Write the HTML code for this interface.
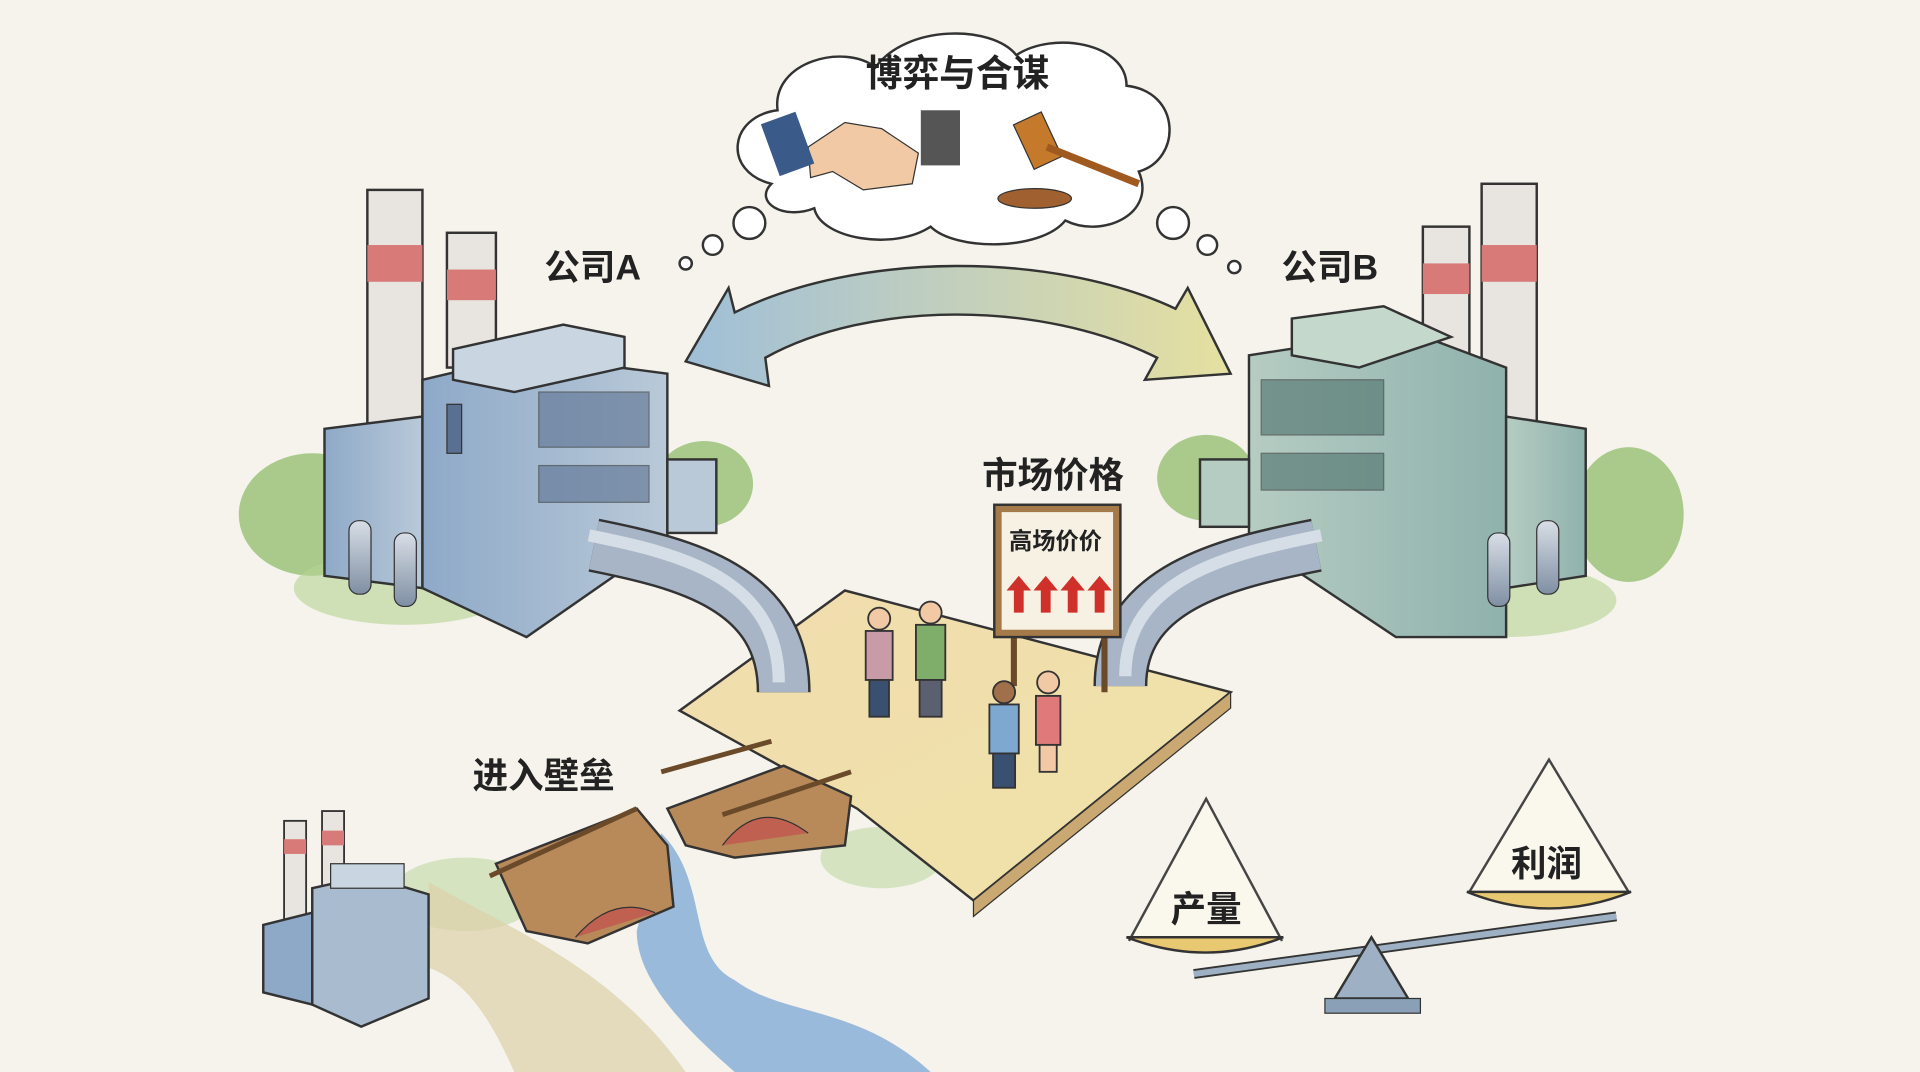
<!DOCTYPE html>
<html><head><meta charset="utf-8"><style>
html,body{margin:0;padding:0;background:#f5f3ec;}
svg{display:block;}
text{font-family:"Liberation Sans","Noto Sans CJK SC",sans-serif;font-weight:bold;fill:#222;}
</style></head><body>
<svg width="1920" height="1072" viewBox="0 0 1568 875" preserveAspectRatio="none" xmlns="http://www.w3.org/2000/svg">
<defs>
<linearGradient id="arr" x1="0" x2="1"><stop offset="0" stop-color="#9fbfd8"/><stop offset="1" stop-color="#e6e0a0"/></linearGradient>
<linearGradient id="plat" x1="0" x2="1" y1="0" y2="1"><stop offset="0" stop-color="#f1dcae"/><stop offset="1" stop-color="#efe3a8"/></linearGradient>
<linearGradient id="facA" x1="0" x2="1"><stop offset="0" stop-color="#8ea9c8"/><stop offset="1" stop-color="#b9c9d8"/></linearGradient>
<linearGradient id="facB" x1="0" x2="1"><stop offset="0" stop-color="#b5ccc2"/><stop offset="1" stop-color="#8fb2ad"/></linearGradient>
<linearGradient id="pipe" x1="0" x2="0" y1="0" y2="1"><stop offset="0" stop-color="#d8dee6"/><stop offset="1" stop-color="#7f8fa3"/></linearGradient>
</defs>
<rect width="1568" height="875" fill="#f5f3ec"/>
<!-- ground greens -->
<ellipse cx="255" cy="420" rx="60" ry="50" fill="#8fbc6a" opacity=".75"/>
<ellipse cx="330" cy="480" rx="90" ry="30" fill="#b5d495" opacity=".6"/>
<ellipse cx="575" cy="395" rx="40" ry="35" fill="#8fbc6a" opacity=".75"/>
<ellipse cx="985" cy="390" rx="40" ry="35" fill="#8fbc6a" opacity=".75"/>
<ellipse cx="1330" cy="420" rx="45" ry="55" fill="#8fbc6a" opacity=".75"/>
<ellipse cx="1230" cy="490" rx="90" ry="30" fill="#b5d495" opacity=".6"/>
<ellipse cx="380" cy="730" rx="60" ry="30" fill="#b5d495" opacity=".5"/>
<ellipse cx="720" cy="700" rx="50" ry="25" fill="#b5d495" opacity=".5"/>
<!-- cloud -->
<path d="M630,150 C590,140 595,95 635,90 C630,50 690,35 715,55 C740,20 810,20 830,45 C860,25 920,35 920,70 C965,75 965,130 930,140 C945,175 900,195 870,180 C850,205 780,205 760,185 C730,205 670,195 665,170 C640,180 615,165 630,150Z" fill="#fff" stroke="#333" stroke-width="2"/>
<circle cx="612" cy="182" r="13" fill="#fff" stroke="#333" stroke-width="2"/>
<circle cx="582" cy="200" r="8" fill="#fff" stroke="#333" stroke-width="2"/>
<circle cx="560" cy="215" r="5" fill="#fff" stroke="#333" stroke-width="2"/>
<circle cx="958" cy="182" r="13" fill="#fff" stroke="#333" stroke-width="2"/>
<circle cx="986" cy="200" r="8" fill="#fff" stroke="#333" stroke-width="2"/>
<circle cx="1008" cy="218" r="5" fill="#fff" stroke="#333" stroke-width="2"/>
<text x="782" y="70" font-size="30" text-anchor="middle">博弈与合谋</text>
<!-- handshake -->
<path d="M660,120 L690,100 L720,105 L750,125 L745,150 L705,155 L680,140 L662,145Z" fill="#f1c9a5" stroke="#333"/>
<rect x="628" y="95" width="30" height="45" fill="#3a5a8a" transform="rotate(-20 643 117)"/>
<rect x="752" y="90" width="32" height="45" fill="#555"/>
<!-- gavel -->
<rect x="835" y="95" width="25" height="40" fill="#c47a2a" stroke="#333" transform="rotate(-25 847 115)"/>
<line x1="855" y1="120" x2="930" y2="150" stroke="#a05a20" stroke-width="6"/>
<ellipse cx="845" cy="162" rx="30" ry="8" fill="#a06030" stroke="#333"/>
<!-- double arrow -->
<path d="M560,295 L595,235 L600,255 C700,205 860,205 960,252 L970,235 L1005,305 L935,310 L945,292 C850,245 710,245 625,292 L628,315Z" fill="url(#arr)" stroke="#333" stroke-width="2"/>
<text x="484" y="228" font-size="29" text-anchor="middle">公司A</text>
<text x="1086" y="228" font-size="29" text-anchor="middle">公司B</text>
<!-- Factory A -->
<rect x="300" y="155" width="45" height="205" fill="#e8e4e0" stroke="#333" stroke-width="2"/>
<rect x="300" y="200" width="45" height="30" fill="#d77a78"/>
<rect x="365" y="190" width="40" height="110" fill="#e8e4e0" stroke="#333" stroke-width="2"/>
<rect x="365" y="220" width="40" height="25" fill="#d77a78"/>
<polygon points="265,350 345,340 345,480 265,470" fill="url(#facA)" stroke="#333" stroke-width="2"/>
<polygon points="345,310 430,290 545,305 545,440 430,520 345,480" fill="url(#facA)" stroke="#333" stroke-width="2"/>
<polygon points="370,285 460,265 510,275 510,300 420,320 370,310" fill="#c9d6e2" stroke="#333" stroke-width="2"/>
<rect x="440" y="320" width="90" height="45" fill="#5a7090" opacity=".6" stroke="#333"/>
<rect x="440" y="380" width="90" height="30" fill="#5a7090" opacity=".6" stroke="#333"/>
<rect x="365" y="330" width="12" height="40" fill="#5a7090" stroke="#333"/>
<rect x="545" y="375" width="40" height="60" fill="#b9c9d8" stroke="#333" stroke-width="2"/>
<rect x="285" y="425" width="18" height="60" rx="8" fill="url(#pipe)" stroke="#333"/>
<rect x="322" y="435" width="18" height="60" rx="8" fill="url(#pipe)" stroke="#333"/>
<!-- Factory B -->
<rect x="1210" y="150" width="45" height="210" fill="#e8e4e0" stroke="#333" stroke-width="2"/>
<rect x="1210" y="200" width="45" height="30" fill="#d77a78"/>
<rect x="1162" y="185" width="38" height="120" fill="#e8e4e0" stroke="#333" stroke-width="2"/>
<rect x="1162" y="215" width="38" height="25" fill="#d77a78"/>
<polygon points="1020,290 1150,270 1230,300 1230,520 1140,520 1020,440" fill="url(#facB)" stroke="#333" stroke-width="2"/>
<polygon points="1230,340 1295,350 1295,470 1230,480" fill="url(#facB)" stroke="#333" stroke-width="2"/>
<polygon points="1055,260 1130,250 1185,275 1110,300 1055,290" fill="#c4d8cc" stroke="#333" stroke-width="2"/>
<rect x="1030" y="310" width="100" height="45" fill="#4c6f6a" opacity=".6" stroke="#333"/>
<rect x="1030" y="370" width="100" height="30" fill="#4c6f6a" opacity=".6" stroke="#333"/>
<rect x="980" y="375" width="40" height="55" fill="#b5ccc2" stroke="#333" stroke-width="2"/>
<rect x="1215" y="435" width="18" height="60" rx="8" fill="url(#pipe)" stroke="#333"/>
<rect x="1255" y="425" width="18" height="60" rx="8" fill="url(#pipe)" stroke="#333"/>
<!-- platform -->
<polygon points="555,580 690,482 1005,565 795,735 700,660" fill="url(#plat)" stroke="#333" stroke-width="2"/>
<polygon points="795,735 1005,565 1005,578 795,748" fill="#c9a872" stroke="#333"/>
<!-- pipes -->
<path d="M485,445 C560,460 640,480 640,565" fill="none" stroke="#333" stroke-width="44"/>
<path d="M485,445 C560,460 640,480 640,565" fill="none" stroke="#a7b5c6" stroke-width="40"/>
<path d="M485,445 C560,460 640,480 640,565" fill="none" stroke="#d5dde6" stroke-width="10" transform="translate(-4,-8)"/>
<path d="M1075,445 C1000,460 915,480 915,560" fill="none" stroke="#333" stroke-width="44"/>
<path d="M1075,445 C1000,460 915,480 915,560" fill="none" stroke="#a7b5c6" stroke-width="40"/>
<path d="M1075,445 C1000,460 915,480 915,560" fill="none" stroke="#d5dde6" stroke-width="10" transform="translate(4,-8)"/>
<!-- sign -->
<text x="860" y="398" font-size="29" text-anchor="middle">市场价格</text>
<line x1="828" y1="515" x2="828" y2="560" stroke="#6b4a2a" stroke-width="5"/>
<line x1="902" y1="515" x2="902" y2="565" stroke="#6b4a2a" stroke-width="5"/>
<rect x="812" y="412" width="103" height="108" fill="#a57a4a" stroke="#333" stroke-width="2"/>
<rect x="818" y="418" width="91" height="96" fill="#f6f1e2"/>
<text x="862" y="448" font-size="19" text-anchor="middle" font-weight="normal">高场价价</text>
<g fill="#d0302a"><polygon points="828,500 828,482 822,482 832,470 842,482 836,482 836,500"/><polygon points="850,500 850,482 844,482 854,470 864,482 858,482 858,500"/><polygon points="872,500 872,482 866,482 876,470 886,482 880,482 880,500"/><polygon points="894,500 894,482 888,482 898,470 908,482 902,482 902,500"/></g>
<!-- people -->
<g stroke="#333" stroke-width="1.5">
<rect x="707" y="515" width="22" height="40" fill="#c99aa8"/><rect x="710" y="555" width="16" height="30" fill="#3a5070"/><circle cx="718" cy="505" r="9" fill="#f1c9a5"/>
<rect x="748" y="510" width="24" height="45" fill="#7fae6a"/><rect x="751" y="555" width="18" height="30" fill="#5a6070"/><circle cx="760" cy="500" r="9" fill="#f1c9a5"/>
<rect x="808" y="575" width="24" height="40" fill="#7fa8d0"/><rect x="811" y="615" width="18" height="28" fill="#3a5070"/><circle cx="820" cy="565" r="9" fill="#a0704a"/>
<rect x="846" y="568" width="20" height="40" fill="#e07a7a"/><rect x="849" y="608" width="14" height="22" fill="#f1c9a5"/><circle cx="856" cy="557" r="9" fill="#f1c9a5"/>
</g>
<!-- river -->
<path d="M540,680 C580,720 560,780 600,800 C640,830 700,820 760,875 L600,875 C560,840 520,800 520,760Z" fill="#8fb4d8" opacity=".9"/>
<!-- bridge -->
<polygon points="405,705 520,660 545,690 550,740 480,770 430,760" fill="#b88a5a" stroke="#333" stroke-width="2"/>
<polygon points="545,660 640,625 695,650 690,690 600,700 560,690" fill="#b88a5a" stroke="#333" stroke-width="2"/>
<line x1="400" y1="715" x2="520" y2="660" stroke="#6b4a2a" stroke-width="4"/>
<line x1="540" y1="630" x2="630" y2="605" stroke="#6b4a2a" stroke-width="4"/>
<line x1="590" y1="665" x2="695" y2="630" stroke="#6b4a2a" stroke-width="4"/>
<path d="M590,690 Q620,650 660,680" fill="#c06050" stroke="#333"/>
<path d="M470,765 Q500,730 535,745" fill="#c06050" stroke="#333"/>
<text x="444" y="643" font-size="29" text-anchor="middle">进入壁垒</text>
<!-- small factory -->
<path d="M350,720 C420,760 500,790 560,875 L420,875 C400,830 380,800 350,790Z" fill="#ddd0a8" opacity=".7"/>
<rect x="232" y="670" width="18" height="110" fill="#e8e4e0" stroke="#333" stroke-width="1.5"/>
<rect x="232" y="685" width="18" height="12" fill="#d77a78"/>
<rect x="263" y="662" width="18" height="110" fill="#e8e4e0" stroke="#333" stroke-width="1.5"/>
<rect x="263" y="678" width="18" height="12" fill="#d77a78"/>
<polygon points="215,755 255,745 255,820 215,810" fill="#8ea9c8" stroke="#333" stroke-width="2"/>
<polygon points="255,725 300,715 350,730 350,815 295,838 255,820" fill="#a9bccf" stroke="#333" stroke-width="2"/>
<rect x="270" y="705" width="60" height="20" fill="#c9d6e2" stroke="#333"/>
<!-- scale -->
<line x1="975" y1="795" x2="1320" y2="748" stroke="#333" stroke-width="8"/>
<line x1="975" y1="795" x2="1320" y2="748" stroke="#9db0c4" stroke-width="5"/>
<polygon points="1120,765 1090,815 1150,815" fill="#9db0c4" stroke="#333" stroke-width="2"/>
<rect x="1082" y="815" width="78" height="12" fill="#8aa0b6" stroke="#333"/>
<polyline points="922,768 985,652 1047,768" fill="#fbf8ee" stroke="#333" stroke-width="2" opacity=".9"/>
<path d="M920,765 Q985,790 1048,765 Z" fill="#e8c870" stroke="#333" stroke-width="2"/>
<polyline points="1200,728 1265,620 1330,728" fill="#fbf8ee" stroke="#333" stroke-width="2" opacity=".9"/>
<path d="M1198,728 Q1265,755 1332,728 Z" fill="#e8c870" stroke="#333" stroke-width="2"/>
<text x="985" y="752" font-size="29" text-anchor="middle">产量</text>
<text x="1263" y="715" font-size="29" text-anchor="middle">利润</text>
</svg>
</body></html>
